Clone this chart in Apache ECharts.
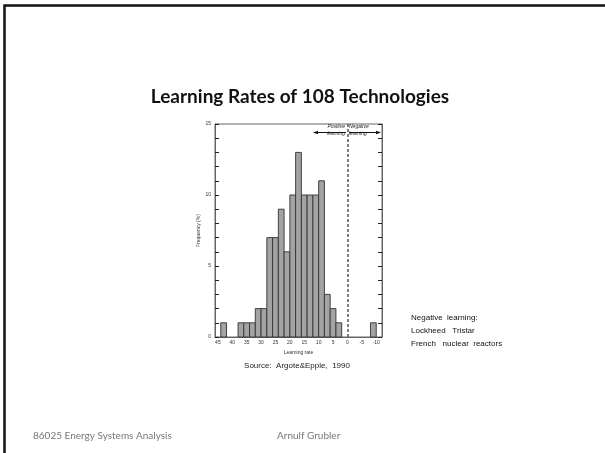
<!DOCTYPE html>
<html>
<head>
<meta charset="utf-8">
<script src="https://cdn.jsdelivr.net/npm/echarts@6/dist/echarts.min.js"></script>
<style>
  html, body { margin: 0; padding: 0; background: #fff; }
  #main { width: 605px; height: 453px; }
</style>
</head>
<body>
<div id="main"></div>
<script>
// bins of 2 percentage points: lower edge of each bin and its frequency
var binLow = [42, 36, 34, 32, 30, 28, 26, 24, 22, 20, 18, 16, 14, 12, 10, 8, 6, 4, 2, -10];
var counts = [1, 1, 1, 1, 2, 2, 7, 7, 9, 6, 10, 13, 10, 10, 10, 11, 3, 2, 1, 1];
var binWidth = 2;
var xTicks = [45, 40, 35, 30, 25, 20, 15, 10, 5, 0, -5, -10];
var yTicks = [0, 5, 10, 15];
var notes = ['Negative  learning:', 'Lockheed   Tristar', 'French   nuclear  reactors'];

var myChart = echarts.init(document.getElementById('main'));

var histData = binLow.map(function (lo, i) { return [lo, lo + binWidth, counts[i]]; });

var tinyFont = { fontFamily: 'Liberation Sans', fontSize: 5, color: '#333' };

var option = {
  animation: false,
  backgroundColor: '#fff',
  grid: { left: 215, right: 223, top: 124, bottom: 116, show: true, borderColor: '#666', borderWidth: 1 },
  xAxis: {
    type: 'value',
    inverse: true,
    min: -12,
    max: 46,
    name: 'Learning rate',
    nameLocation: 'middle',
    nameGap: 13,
    nameTextStyle: tinyFont,
    axisLine: { show: true, onZero: false, lineStyle: { color: '#666', width: 1 } },
    axisTick: { show: false },
    splitLine: { show: false },
    axisLabel: { customValues: xTicks, margin: 3, fontFamily: 'Liberation Sans', fontSize: 5, color: '#333' }
  },
  yAxis: [{
    type: 'value',
    min: 0,
    max: 15,
    interval: 1,
    name: 'Frequency (%)',
    nameLocation: 'middle',
    nameGap: 14,
    nameTextStyle: tinyFont,
    axisLine: { show: true, onZero: false, lineStyle: { color: '#666', width: 1 } },
    axisTick: { show: true, inside: true, length: 4, lineStyle: { color: '#222' } },
    splitLine: { show: false },
    axisLabel: { customValues: yTicks, margin: 4, fontFamily: 'Liberation Sans', fontSize: 5, color: '#333' }
  }, {
    type: 'value',
    position: 'right',
    min: 0,
    max: 15,
    interval: 1,
    axisLine: { show: true, onZero: false, lineStyle: { color: '#666', width: 1 } },
    axisTick: { show: true, inside: true, length: 4, lineStyle: { color: '#222' } },
    splitLine: { show: false },
    axisLabel: { show: false }
  }],
  series: [{
    type: 'custom',
    data: histData,
    encode: { x: [0, 1], y: 2 },
    renderItem: function (params, api) {
      var p0 = api.coord([api.value(0), 0]);
      var p1 = api.coord([api.value(1), api.value(2)]);
      return {
        type: 'rect',
        shape: { x: Math.min(p0[0], p1[0]), y: p1[1], width: Math.abs(p1[0] - p0[0]), height: p0[1] - p1[1] },
        style: { fill: '#a3a3a3', stroke: '#333', lineWidth: 0.9 }
      };
    },
    markLine: {
      silent: true,
      symbol: ['none', 'none'],
      label: { show: false },
      lineStyle: { type: [3, 2], color: '#555', width: 1.5 },
      data: [{ xAxis: 0 }]
    }
  }],
  graphic: [
    // slide frame
    { type: 'rect', shape: { x: 4.5, y: 5.5, width: 620, height: 470 }, style: { fill: null, stroke: '#111', lineWidth: 2.5 } },
    { type: 'text', x: 300, y: 87, style: { text: 'Learning Rates of 108 Technologies', font: 'bold 19px Lato', fill: '#111', align: 'center' } },
    // positive / negative learning arrows
    { type: 'line', shape: { x1: 346, y1: 132.5, x2: 316, y2: 132.5 }, style: { stroke: '#111', lineWidth: 1 } },
    { type: 'polygon', shape: { points: [[313, 132.5], [318, 130.8], [318, 134.2]] }, style: { fill: '#111' } },
    { type: 'line', shape: { x1: 349, y1: 132.5, x2: 378, y2: 132.5 }, style: { stroke: '#111', lineWidth: 1 } },
    { type: 'polygon', shape: { points: [[381, 132.5], [376, 130.8], [376, 134.2]] }, style: { fill: '#111' } },
    { type: 'text', x: 345, y: 123.5, style: { text: 'Positive\nlearning', font: 'italic 5px Liberation Sans', lineHeight: 7, fill: '#222', align: 'right' } },
    { type: 'text', x: 349, y: 123.5, style: { text: 'Negative\nlearning', font: 'italic 5px Liberation Sans', lineHeight: 7, fill: '#222', align: 'left' } },
    { type: 'text', x: 297, y: 362, style: { text: 'Source:  Argote&Epple,  1990', font: '8px Liberation Sans', fill: '#222', align: 'center' } },
    { type: 'text', x: 411, y: 311, style: { text: notes.join('\n'), font: '8px Liberation Sans', lineHeight: 13, fill: '#111' } },
    { type: 'text', x: 33, y: 431, style: { text: '86025 Energy Systems Analysis', font: '10px Lato', fill: '#777' } },
    { type: 'text', x: 277, y: 431, style: { text: 'Arnulf Grubler', font: '10px Lato', fill: '#777' } }
  ]
};

window.onresize = myChart.resize;
myChart.setOption(option);
</script>
</body>
</html>
